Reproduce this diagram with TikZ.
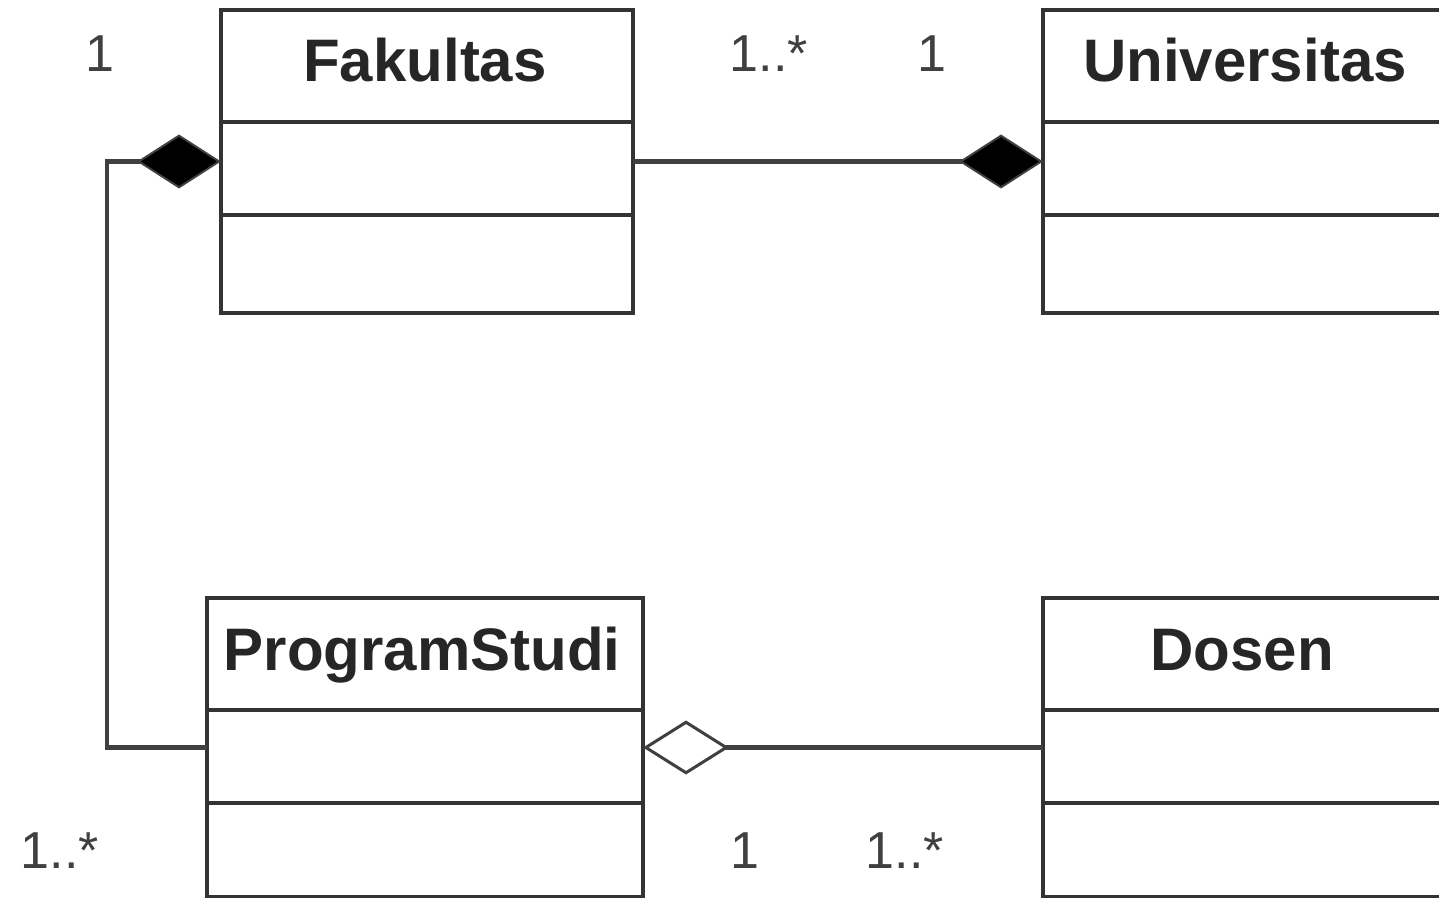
\documentclass[tikz,border=0pt]{standalone}
\usepackage{fontspec}
\setmainfont{Liberation Sans}
\usetikzlibrary{arrows.meta}
\begin{document}
\begin{tikzpicture}[x=0.5pt,y=-0.5pt,
  cls/.style={draw=black!80, line width=2.3pt, fill=white, rectangle, inner sep=0pt, outer sep=0pt, anchor=north west},
  sepline/.style={draw=black!80, line width=2.3pt},
  title/.style={font=\fontsize{30}{36}\selectfont\bfseries, text=black!85, anchor=base},
  mult/.style={font=\fontsize{26}{30}\selectfont, text=black!75, anchor=base},
  conn/.style={draw=black!75, line width=2.3pt},
  comp/.style={-{Diamond[length=42pt,width=27pt,fill=black,line width=1pt]}},
  aggr/.style={-{Diamond[open,fill=white,length=43pt,width=27pt,line width=1.5pt]}}]
\useasboundingbox (0,0) rectangle (1439,898);
\clip (0,0) rectangle (1439,898);
% classes
\node[cls, minimum width=206pt, minimum height=151.5pt] (fak) at (221,10) {};
\node[cls, minimum width=228.5pt, minimum height=151.5pt] (uni) at (1043,10) {};
\node[cls, minimum width=218pt, minimum height=149.5pt] (ps) at (207,598) {};
\node[cls, minimum width=228.5pt, minimum height=149.5pt] (dos) at (1043,598) {};
% compartments
\draw[sepline] (221,122) -- (633,122) (221,215) -- (633,215);
\draw[sepline] (1043,122) -- (1500,122) (1043,215) -- (1500,215);
\draw[sepline] (207,710) -- (643,710) (207,803) -- (643,803);
\draw[sepline] (1043,710) -- (1500,710) (1043,803) -- (1500,803);
% titles
\node[title] (tfak) at (425,82) {Fakultas};
\node[title] (tuni) at (1245,82) {Universitas};
\node[title] (tps) at (422,670) {ProgramStudi};
\node[title] (tdos) at (1242,670) {Dosen};
% connectors
\draw[conn, comp] (fak.east) -- (uni.west);
\draw[conn, comp] (ps.west) -- ++(-100,0) |- (fak.west);
\draw[conn, aggr] (dos.west) -- (ps.east);
% multiplicities
\node[mult] (m1) at (100,72) {1};
\node[mult] (m2) at (769,72) {1..*};
\node[mult] (m3) at (932,72) {1};
\node[mult] (m4) at (60,868) {1..*};
\node[mult] (m5) at (745,868) {1};
\node[mult] (m6) at (905,868) {1..*};
\end{tikzpicture}
\end{document}
